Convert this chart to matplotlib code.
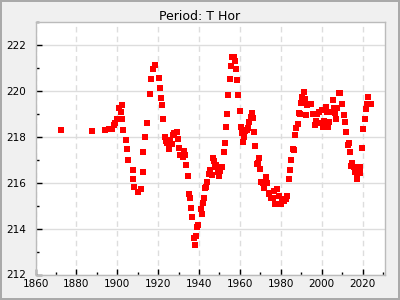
import matplotlib
matplotlib.use("Agg")
import matplotlib.pyplot as plt
from matplotlib.ticker import MultipleLocator

title = "Period: T Hor"
years = [1872.5, 1887.8, 1894.2, 1895.7, 1897.5, 1898.5, 1899.1, 1899.6, 1900.8, 1901.6,
         1902.1, 1902.5, 1903.0, 1904.0, 1904.5, 1905.3, 1907.5, 1907.9, 1908.4, 1909.9,
         1911.4, 1912.4, 1912.8, 1913.3, 1914.3, 1915.8, 1916.3, 1917.7, 1918.6, 1920.2,
         1920.7, 1921.2, 1921.7, 1922.2, 1923.1, 1923.6, 1924.1, 1925.1, 1925.6, 1926.6,
         1927.1, 1927.5, 1929.0, 1929.5, 1930.0, 1930.5, 1932.0, 1932.5, 1932.9, 1933.4,
         1934.4, 1934.9, 1935.4, 1935.9, 1936.4, 1937.4, 1937.8, 1938.3, 1938.8, 1939.3,
         1940.8, 1941.3, 1941.8, 1942.3, 1942.8, 1943.4, 1943.9, 1944.9, 1945.4, 1946.4,
         1946.9, 1947.4, 1947.8, 1948.3, 1949.3, 1949.8, 1950.3, 1951.1, 1952.1, 1952.5,
         1953.0, 1953.5, 1954.0, 1955.0, 1955.5, 1956.2, 1957.0, 1957.5, 1957.9, 1958.4,
         1958.9, 1959.9, 1960.4, 1960.9, 1961.4, 1961.9, 1962.4, 1963.3, 1963.8, 1964.3,
         1965.3, 1965.8, 1966.3, 1966.8, 1967.3, 1968.2, 1968.7, 1969.2, 1969.7, 1970.2,
         1971.2, 1971.7, 1972.6, 1973.1, 1974.0, 1974.3, 1975.3, 1976.3, 1976.8, 1977.3,
         1978.2, 1979.2, 1980.7, 1980.2, 1981.7, 1982.5, 1983.1, 1983.9, 1984.4, 1984.9,
         1985.9, 1986.4, 1986.9, 1987.4, 1988.3, 1988.8, 1989.3, 1989.8, 1990.3, 1991.3,
         1991.8, 1992.7, 1992.2, 1993.7, 1994.7, 1995.7, 1996.7, 1997.2, 1997.6, 1998.6,
         1999.1, 2000.1, 2000.6, 2001.1, 2002.1, 2002.5, 2003.0, 2003.5, 2004.0, 2005.5,
         2006.0, 2006.7, 2007.6, 2007.1, 2008.6, 2009.1, 2010.1, 2010.9, 2011.4, 2011.9,
         2012.8, 2013.3, 2013.8, 2014.3, 2014.8, 2015.8, 2016.3, 2016.8, 2017.2, 2017.2,
         2017.8, 2018.7, 2018.7, 2019.7, 2020.2, 2021.2, 2021.7, 2022.2, 2022.7, 2023.6,
         2024.1]
periods = [218.27, 218.23, 218.27, 218.31, 218.31, 218.49, 218.59, 218.77, 219.23, 219.08,
           219.36, 218.75, 218.27, 217.83, 217.44, 217.00, 216.53, 216.14, 215.79, 215.57,
           215.70, 216.44, 217.31, 217.97, 218.57, 219.83, 220.49, 220.92, 221.10, 220.53,
           220.10, 219.66, 219.36, 218.75, 217.97, 217.79, 217.70, 217.44, 217.83, 217.66,
           218.05, 218.14, 218.18, 217.88, 217.49, 217.18, 217.10, 217.36, 217.18, 216.75,
           216.27, 215.49, 215.31, 214.88, 214.49, 213.57, 213.27, 213.66, 214.05, 214.14,
           214.83, 214.62, 215.10, 215.31, 215.75, 215.80, 216.01, 216.36, 216.53, 216.31,
           217.05, 216.92, 216.66, 216.75, 216.44, 216.27, 216.49, 216.66, 217.31, 217.70,
           218.40, 218.97, 219.79, 220.49, 221.05, 221.45, 221.45, 221.27, 220.92, 220.44,
           219.79, 219.10, 218.40, 218.14, 217.75, 217.97, 218.23, 218.27, 218.36, 218.62,
           218.83, 219.01, 218.79, 218.18, 217.57, 216.79, 216.83, 217.05, 216.57, 216.01,
           215.97, 215.75, 216.23, 215.97, 215.53, 215.50, 215.31, 215.31, 215.62, 215.05,
           215.70, 215.40, 215.27, 215.05, 215.18, 215.30, 215.40, 216.14, 216.53, 217.00,
           217.44, 217.40, 218.05, 218.36, 218.53, 219.01, 219.00, 219.44, 219.70, 219.92,
           219.62, 219.36, 218.92, 219.40, 219.40, 218.97, 218.49, 218.66, 218.97, 219.05,
           218.57, 219.14, 218.40, 218.66, 219.27, 219.05, 218.40, 218.62, 219.05, 219.57,
           219.23, 219.01, 219.23, 218.75, 219.88, 219.88, 219.40, 218.92, 218.62, 218.18,
           217.62, 217.70, 217.31, 216.70, 216.83, 216.66, 216.44, 216.50, 216.40, 216.14,
           216.66, 216.66, 216.40, 217.49, 218.31, 218.75, 219.18, 219.40, 219.70, 219.40,
           219.40]

fig = plt.figure(figsize=(4, 3), dpi=100, facecolor="#f0f0f0",
                 edgecolor="#aaaaaa", linewidth=1.5)
ax = fig.add_axes([0.089, 0.085, 0.8735, 0.843])
ax.set_facecolor("white")
ax.plot(years, periods, linestyle="none", marker="s", markersize=3.9,
        color="red", markeredgewidth=0, zorder=3)

ax.set_xlim(1860, 2031)
ax.set_ylim(212, 223)
ax.xaxis.set_major_locator(MultipleLocator(20))
ax.xaxis.set_minor_locator(MultipleLocator(10))
ax.yaxis.set_major_locator(MultipleLocator(2))
ax.yaxis.set_minor_locator(MultipleLocator(1))

ax.grid(axis="y", which="major", color="#dddddd", linestyle="-", linewidth=1, zorder=0)
ax.grid(axis="x", which="major", color="#dddddd", linestyle=(0, (4, 3)), linewidth=1, zorder=0)
ax.set_axisbelow(True)

ax.tick_params(which="both", direction="in", top=False, right=False, labelsize=7.5,
               colors="black")
ax.tick_params(which="major", length=4, width=1)
ax.tick_params(which="minor", length=2.5, width=1)
ax.tick_params(axis="y", which="major", pad=7)
ax.tick_params(axis="x", which="major", pad=3)
for s in ax.spines.values():
    s.set_color("#bbbbbb")
    s.set_linewidth(1)

fig.suptitle(title, y=0.965, fontsize=9)
fig.savefig("out.png", dpi=100, facecolor=fig.get_facecolor(), edgecolor=fig.get_edgecolor())
